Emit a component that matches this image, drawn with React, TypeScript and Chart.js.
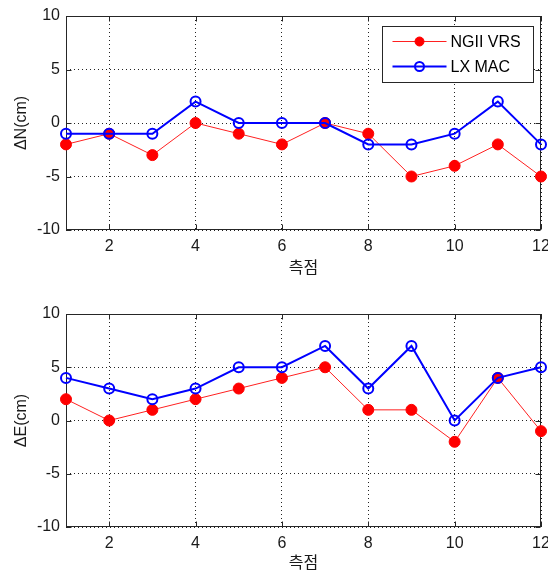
import React, { useEffect, useRef } from 'react';
import { Chart, registerables } from 'chart.js';

Chart.register(...registerables);

const stations = [1, 2, 3, 4, 5, 6, 7, 8, 9, 10, 11, 12];
const northNgii = [-2, -1, -3, 0, -1, -2, 0, -1, -5, -4, -2, -5];
const northLx = [-1, -1, -1, 2, 0, 0, 0, -2, -2, -1, 2, -2];
const eastNgii = [2, 0, 1, 2, 3, 4, 5, 1, 1, -2, 4, -1];
const eastLx = [4, 3, 2, 3, 5, 5, 7, 3, 7, 0, 4, 5];
const seriesNames = ['NGII VRS', 'LX MAC'];
const xTitle = '측점';
const yTitles = ['ΔN(cm)', 'ΔE(cm)'];
const yRange = [-10, 10];
const yStep = 5;
const xStep = 2;

const FONT = '"Liberation Sans", Arial, "Noto Sans CJK KR", sans-serif';
const AXIS_COLOR = '#262626';

const framePlugin = {
  id: 'frame',
  beforeDatasetsDraw(chart: any) {
    const { ctx, chartArea, scales } = chart;
    const l = Math.round(chartArea.left) + 0.5;
    const r = Math.round(chartArea.right) - 0.5;
    const t = Math.round(chartArea.top) + 0.5;
    const b = Math.round(chartArea.bottom) - 0.5;
    ctx.save();
    ctx.strokeStyle = AXIS_COLOR;
    ctx.lineWidth = 1;
    ctx.setLineDash([]);
    ctx.strokeRect(l, t, r - l, b - t);
    const len = 5;
    ctx.beginPath();
    scales.x.ticks.forEach((tk: any) => {
      const px = Math.round(scales.x.getPixelForValue(tk.value)) + 0.5;
      ctx.moveTo(px, b); ctx.lineTo(px, b - len);
      ctx.moveTo(px, t); ctx.lineTo(px, t + len);
    });
    scales.y.ticks.forEach((tk: any) => {
      const py = Math.round(scales.y.getPixelForValue(tk.value)) + 0.5;
      ctx.moveTo(l, py); ctx.lineTo(l + len, py);
      ctx.moveTo(r, py); ctx.lineTo(r - len, py);
    });
    ctx.stroke();
    ctx.restore();
  },
};

const legendPlugin = {
  id: 'boxLegend',
  afterDraw(chart: any, _args: any, opts: any) {
    if (!opts || !opts.show) return;
    const { ctx, chartArea } = chart;
    const w = 151, h = 56;
    const bx = Math.round(chartArea.right) - 8 - w + 0.5;
    const by = Math.round(chartArea.top) + 10 + 0.5;
    ctx.save();
    ctx.fillStyle = '#ffffff';
    ctx.fillRect(bx, by, w, h);
    ctx.strokeStyle = AXIS_COLOR;
    ctx.lineWidth = 1;
    ctx.setLineDash([]);
    ctx.strokeRect(bx, by, w, h);
    const ds = chart.data.datasets;
    ds.forEach((d: any, i: number) => {
      const yy = by + 15 + i * 25;
      ctx.strokeStyle = d.borderColor;
      ctx.lineWidth = d.borderWidth;
      ctx.beginPath();
      ctx.moveTo(bx + 10, yy);
      ctx.lineTo(bx + 64, yy);
      ctx.stroke();
      ctx.beginPath();
      ctx.arc(bx + 37, yy, 4.5, 0, Math.PI * 2);
      if (d.pointBackgroundColor && d.pointBackgroundColor !== 'transparent') {
        ctx.fillStyle = d.pointBackgroundColor;
        ctx.fill();
      }
      ctx.strokeStyle = d.pointBorderColor;
      ctx.lineWidth = d.pointBorderWidth;
      ctx.stroke();
      ctx.fillStyle = '#000000';
      ctx.font = `16px ${FONT}`;
      ctx.textBaseline = 'middle';
      ctx.textAlign = 'left';
      ctx.fillText(d.label, bx + 68, yy + 1);
    });
    ctx.restore();
  },
};

function makeConfig(ngii: number[], lx: number[], yTitle: string, padTop: number, axisH: number, titlePadB: number, legend: boolean): any {
  return {
    type: 'line',
    data: {
      datasets: [
        {
          label: seriesNames[0],
          data: stations.map((s, i) => ({ x: s, y: ngii[i] })),
          borderColor: '#ff2020',
          borderWidth: 1,
          pointRadius: 5.5,
          pointBackgroundColor: '#ff0000',
          pointBorderColor: '#ff0000',
          pointBorderWidth: 1,
          tension: 0,
          clip: false,
          order: 1,
        },
        {
          label: seriesNames[1],
          data: stations.map((s, i) => ({ x: s, y: lx[i] })),
          borderColor: '#0000ff',
          borderWidth: 2,
          pointRadius: 5,
          pointBackgroundColor: 'transparent',
          pointBorderColor: '#0000ff',
          pointBorderWidth: 2,
          tension: 0,
          clip: false,
          order: 0,
        },
      ],
    },
    options: {
      responsive: false,
      animation: false,
      events: [],
      layout: { padding: { left: 0, right: 7, top: padTop, bottom: 0 } },
      plugins: {
        legend: { display: false },
        tooltip: { enabled: false },
        boxLegend: { show: legend },
      },
      scales: {
        x: {
          type: 'linear',
          min: stations[0],
          max: stations[stations.length - 1],
          ticks: {
            stepSize: xStep,
            includeBounds: false,
            color: '#1a1a1a',
            font: { family: FONT, size: 16 },
            padding: 7,
            maxRotation: 0,
          },
          grid: { color: '#222222', lineWidth: 1, drawTicks: false },
          border: { display: false, dash: [1, 3] },
          title: {
            display: true,
            text: xTitle,
            color: '#1a1a1a',
            font: { family: FONT, size: 16 },
            padding: { top: 0, bottom: titlePadB },
          },
          afterFit(scale: any) {
            scale.height = axisH;
            scale.paddingLeft = 0;
            scale.paddingRight = 0;
          },
        },
        y: {
          type: 'linear',
          min: yRange[0],
          max: yRange[1],
          ticks: {
            stepSize: yStep,
            color: '#1a1a1a',
            font: { family: FONT, size: 16 },
            padding: 6,
          },
          grid: { color: '#222222', lineWidth: 1, drawTicks: false },
          border: { display: false, dash: [1, 3] },
          title: {
            display: true,
            text: yTitle,
            color: '#1a1a1a',
            font: { family: FONT, size: 16 },
            padding: { top: 12, bottom: 0 },
          },
          afterFit(scale: any) {
            scale.width = 66;
            scale.paddingTop = 0;
            scale.paddingBottom = 0;
          },
        },
      },
    },
    plugins: [framePlugin, legendPlugin],
  };
}

function Panel(props: { ngii: number[]; lx: number[]; yTitle: string; top: number; height: number; padTop: number; axisH: number; titlePadB: number; legend: boolean }) {
  const ref = useRef<HTMLCanvasElement | null>(null);
  useEffect(() => {
    if (!ref.current) return;
    const chart = new Chart(ref.current, makeConfig(props.ngii, props.lx, props.yTitle, props.padTop, props.axisH, props.titlePadB, props.legend));
    return () => chart.destroy();
  }, []);
  return (
    <canvas
      ref={ref}
      width={548}
      height={props.height}
      style={{ position: 'absolute', left: 0, top: props.top, width: 548, height: props.height }}
    />
  );
}

export default function App() {
  return (
    <div style={{ position: 'absolute', left: 0, top: 0, width: 548, height: 575, background: '#ffffff', overflow: 'hidden' }}>
      <Panel ngii={northNgii} lx={northLx} yTitle={yTitles[0]} top={0} height={290} padTop={16} axisH={60} titlePadB={12} legend={true} />
      <Panel ngii={eastNgii} lx={eastLx} yTitle={yTitles[1]} top={290} height={285} padTop={24} axisH={48} titlePadB={2} legend={false} />
    </div>
  );
}
